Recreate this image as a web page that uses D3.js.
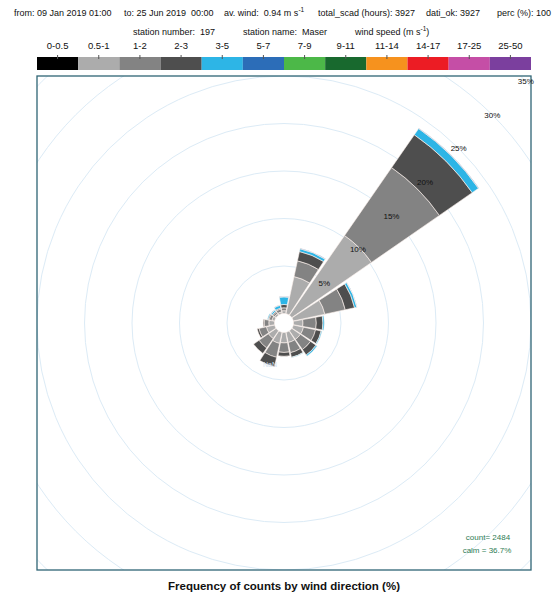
<!DOCTYPE html>
<html>
<head>
<meta charset="utf-8">
<script src="https://cdn.jsdelivr.net/npm/d3@7"></script>
<style>
  html, body { margin: 0; padding: 0; background: #fff; }
  svg { display: block; font-family: "Liberation Sans", Arial, sans-serif; }
</style>
</head>
<body>
<svg id="chart" width="553" height="595"></svg>
<script>
// Wind sectors (16 directions, degrees clockwise from north)
const directions = ["N","NNE","NE","ENE","E","ESE","SE","SSE","S","SSW","SW","WSW","W","WNW","NW","NNW"];
const bearings = [0,22.5,45,67.5,90,112.5,135,157.5,180,202.5,225,247.5,270,292.5,315,337.5];

// Wind speed classes (m s-1)
const speedClasses = ["0-0.5","0.5-1","1-2","2-3","3-5","5-7","7-9","9-11","11-14","14-17","17-25","25-50"];
const classColors = ["#000000","#acacac","#838383","#4e4e4e","#2db5e6","#2c6db8","#4cb848","#18692e","#f6921e","#ec1c24","#c54ea6","#7b3f9e"];

// Frequency (% of counts) per direction, one array per speed class
const freq_0_05  = [0,0,0,0,0,0,0,0,0,0,0,0,0,0,0,0];
const freq_05_1  = [0.30,4.0,10.2,3.4,1.0,1.1,1.1,1.1,1.1,1.2,1.0,0.9,0.6,0.3,0.2,0.2];
const freq_1_2   = [0.30,1.7,8.7,2.2,1.4,1.3,1.3,1.1,1.0,1.5,1.2,0.8,0.5,0.3,0.2,0.3];
const freq_2_3   = [0.35,1.0,4.2,1.0,0.7,0.6,0.7,0.5,0.4,1.0,0.7,0.2,0.1,0.1,0.1,0.1];
const freq_3_5   = [0.80,0.3,0.8,0.25,0.15,0.1,0.15,0.05,0,0,0,0,0,0.1,0.15,0.3];
const freq_5_7   = [0.05,0.05,0.05,0.02,0,0,0,0,0,0,0,0,0,0,0.05,0.05];
const freq_7_9   = [0,0,0,0,0,0,0,0,0,0,0,0,0,0,0,0];
const freq_9_11  = [0,0,0,0,0,0,0,0,0,0,0,0,0,0,0,0];
const freq_11_14 = [0,0,0,0,0,0,0,0,0,0,0,0,0,0,0,0];
const freq_14_17 = [0,0,0,0,0,0,0,0,0,0,0,0,0,0,0,0];
const freq_17_25 = [0,0,0,0,0,0,0,0,0,0,0,0,0,0,0,0];
const freq_25_50 = [0,0,0,0,0,0,0,0,0,0,0,0,0,0,0,0];
const seriesByClass = [freq_0_05,freq_05_1,freq_1_2,freq_2_3,freq_3_5,freq_5_7,freq_7_9,freq_9_11,freq_11_14,freq_14_17,freq_17_25,freq_25_50];

// Radial ring levels (%)
const ringLevels = [5,10,15,20,25,30,35];
const ringLabels = ["5%","10%","15%","20%","25%","30%","35%"];

// Header lines: start x and text parts (second part is a superscript)
const headerSegments = [
  {x: 14,  parts: ["from: 09 Jan 2019 01:00"]},
  {x: 124, parts: ["to: 25 Jun 2019  00:00"]},
  {x: 224, parts: ["av. wind:  0.94 m s", "-1"]},
  {x: 318, parts: ["total_scad (hours): 3927"]},
  {x: 426, parts: ["dati_ok: 3927"]},
  {x: 497, parts: ["perc (%): 100"]}
];
const stationSegments = [
  {x: 133, parts: ["station number:  197"]},
  {x: 243, parts: ["station name:  Maser"]},
  {x: 355, parts: ["wind speed (m s", "-1", ")"]}
];
const countText = "count= 2484";
const calmText = "calm = 36.7%";
const titleText = "Frequency of counts by wind direction (%)";

const svg = d3.select("#chart");

// ---- header text ----
function drawSegments(segs, y) {
  segs.forEach(s => {
    const t = svg.append("text").attr("x", s.x).attr("y", y)
      .attr("font-size", 9).attr("fill", "#111").attr("xml:space", "preserve");
    s.parts.forEach((p, i) => {
      const ts = t.append("tspan").text(p);
      if (i === 1) ts.attr("dy", -4).attr("font-size", 6.5);
      if (i === 2) ts.attr("dy", 4);
    });
  });
}
drawSegments(headerSegments, 16);
drawSegments(stationSegments, 35);

// ---- color bar legend ----
const frame = {x0: 37, x1: 531, y0: 76, y1: 570};
const barX = d3.scaleBand().domain(speedClasses).range([frame.x0, frame.x1]).paddingInner(0).paddingOuter(0);
const barY0 = 57, barH = 13;
svg.append("g").selectAll("rect").data(speedClasses).join("rect")
  .attr("x", d => barX(d)).attr("y", barY0)
  .attr("width", barX.bandwidth()).attr("height", barH)
  .attr("fill", (d, i) => classColors[i]);
const barAxis = d3.axisTop(barX).tickSize(4).tickSizeOuter(0);
const gAx = svg.append("g").attr("transform", `translate(0,${barY0 + 2})`).call(barAxis);
gAx.select(".domain").remove();
gAx.selectAll(".tick line").attr("stroke", "#555");
gAx.selectAll(".tick text").attr("font-size", 9.5).attr("fill", "#111")
  .attr("font-family", "Liberation Sans, Arial, sans-serif").attr("dy", "-0.35em");

// ---- polar plot ----
const cx = (frame.x0 + frame.x1) / 2, cy = (frame.y0 + frame.y1) / 2;
const r = d3.scaleLinear().domain([0, 35]).range([9.5, 9.5 + 35 * 9.5]);

svg.append("clipPath").attr("id", "plotclip").append("rect")
  .attr("x", frame.x0).attr("y", frame.y0)
  .attr("width", frame.x1 - frame.x0).attr("height", frame.y1 - frame.y0);

const plot = svg.append("g").attr("clip-path", "url(#plotclip)");
const center = plot.append("g").attr("transform", `translate(${cx},${cy})`);

// rings
center.selectAll("circle.ring").data(ringLevels).join("circle")
  .attr("class", "ring").attr("r", d => r(d))
  .attr("fill", "none").attr("stroke", "#dcebf6").attr("stroke-width", 1);

// stacked sectors
const halfWidth = 10.3 * Math.PI / 180;
const arc = d3.arc();
const segments = [];
directions.forEach((dir, i) => {
  let cum = 0;
  seriesByClass.forEach((series, k) => {
    const v = series[i];
    if (v > 0) {
      segments.push({dir, bearing: bearings[i], k, lo: cum, hi: cum + v});
      cum += v;
    }
  });
});
center.selectAll("path.seg").data(segments).join("path")
  .attr("class", "seg")
  .attr("d", d => {
    const a = d.bearing * Math.PI / 180;
    return arc({innerRadius: r(d.lo), outerRadius: r(d.hi), startAngle: a - halfWidth, endAngle: a + halfWidth});
  })
  .attr("fill", d => classColors[d.k])
  .attr("stroke", "#fff3ef").attr("stroke-width", 0.6);

// small faint label under the centre
center.append("text").attr("x", -14).attr("y", 44).attr("text-anchor", "middle")
  .attr("font-size", 7).attr("fill", "#d6e4f0").text("NaN");

// frame
svg.append("rect").attr("x", frame.x0).attr("y", frame.y0)
  .attr("width", frame.x1 - frame.x0).attr("height", frame.y1 - frame.y0)
  .attr("fill", "none").attr("stroke", "#2f6575").attr("stroke-width", 1.3);

// ring labels along the NE diagonal
const diag = Math.SQRT1_2;
svg.append("g").selectAll("text").data(ringLevels).join("text")
  .attr("x", d => cx + r(d) * diag).attr("y", d => cy - r(d) * diag + 3)
  .attr("text-anchor", "middle").attr("font-size", 8).attr("fill", "#111")
  .text((d, i) => ringLabels[i]);

// count / calm
svg.append("text").attr("x", 488).attr("y", 540).attr("text-anchor", "middle")
  .attr("font-size", 8).attr("fill", "#2e7c55").text(countText);
svg.append("text").attr("x", 487).attr("y", 553).attr("text-anchor", "middle")
  .attr("font-size", 8).attr("fill", "#2e7c55").text(calmText);

// title
svg.append("text").attr("x", 284).attr("y", 590).attr("text-anchor", "middle")
  .attr("font-size", 11.5).attr("font-weight", "bold").attr("fill", "#111").text(titleText);
</script>
</body>
</html>
